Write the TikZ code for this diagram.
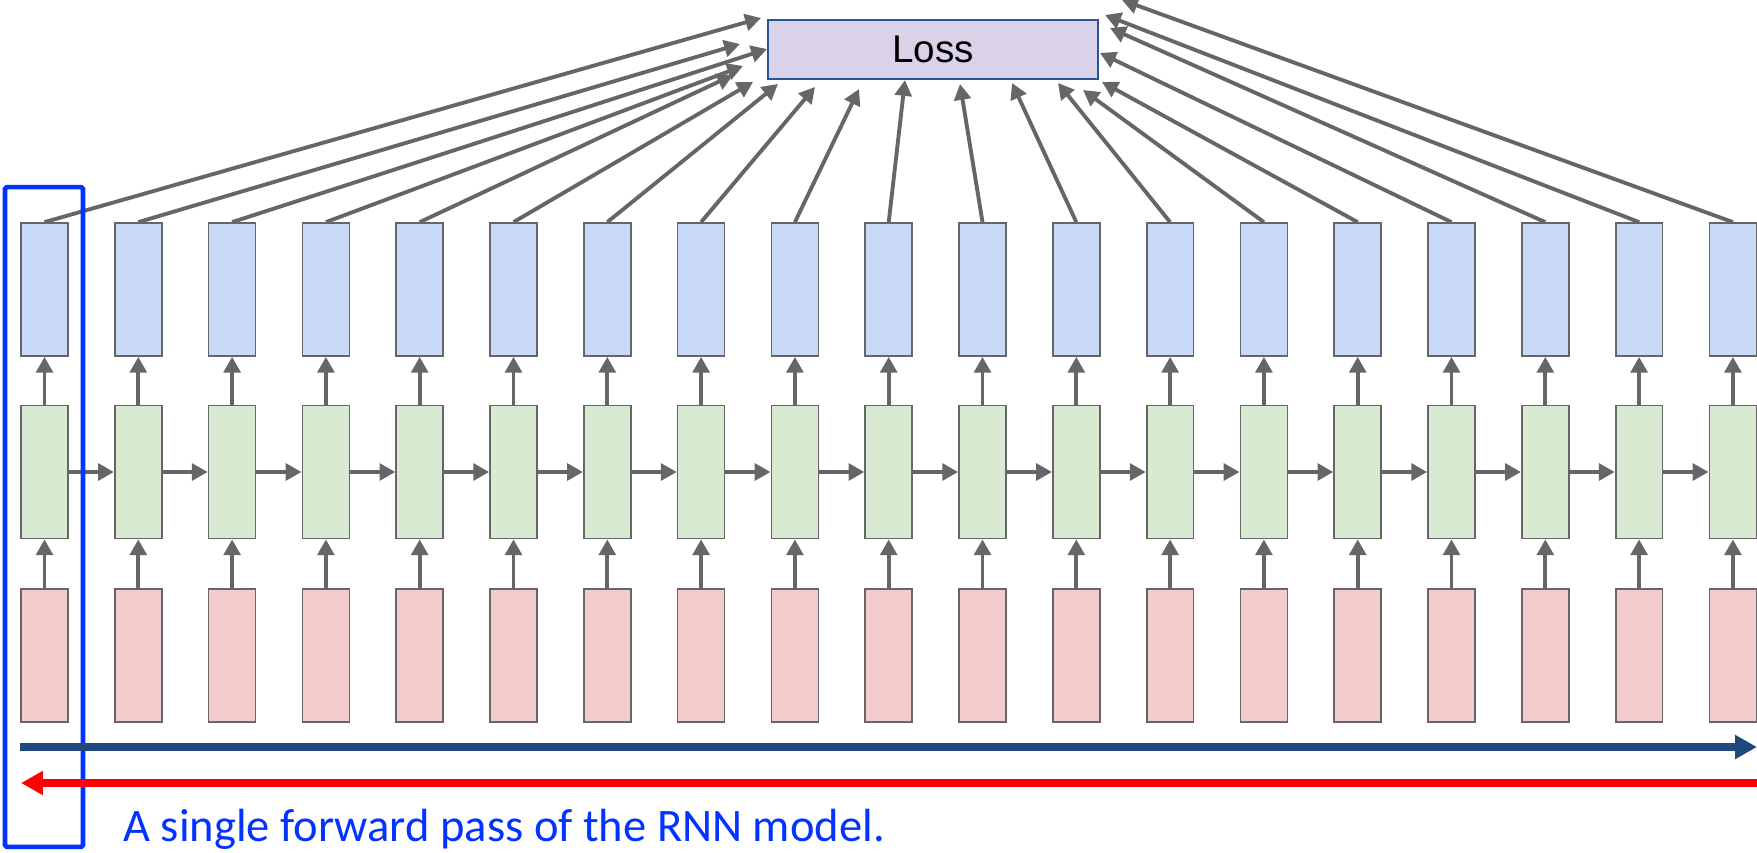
\documentclass[tikz,border=0pt]{standalone}
\usepackage{fontspec}
\setmainfont{Liberation Sans}
\newfontfamily\capfont{Carlito}
\usetikzlibrary{arrows.meta, positioning, calc}
\definecolor{mgray}{HTML}{666666}
\definecolor{mout}{HTML}{C9DAF8}
\definecolor{mhid}{HTML}{D9EAD3}
\definecolor{minp}{HTML}{F4CCCC}
\definecolor{mloss}{HTML}{D9D2E9}
\definecolor{mlossline}{HTML}{2B5597}
\definecolor{mfwd}{HTML}{1F497D}
\definecolor{mbwd}{HTML}{FF0000}
\definecolor{mframe}{HTML}{0433FF}
\tikzset{
  cellbox/.style={draw=mgray, line width=1pt, minimum width=0.94cm,
                  minimum height=2.66cm, inner sep=0pt},
  obox/.style={cellbox, fill=mout},
  hbox/.style={cellbox, fill=mhid},
  ibox/.style={cellbox, fill=minp},
  lossbox/.style={draw=mlossline, line width=0.9pt, fill=mloss, minimum width=6.6cm,
                  minimum height=1.18cm, inner sep=0pt, font=\fontsize{22}{26}\selectfont},
  arr/.style={-{Triangle[length=9pt, width=9.5pt]}, line width=2.2pt, mgray},
  fwdarr/.style={-{Triangle[length=12.5pt, width=13pt]}, line width=4.5pt, mfwd},
  bwdarr/.style={-{Triangle[length=12.5pt, width=13pt]}, line width=4.5pt, mbwd},
  passframe/.style={draw=mframe, line width=2.6pt, rounded corners=1pt,
                    minimum width=1.56cm, minimum height=13.2cm, inner sep=0pt},
}

\begin{document}
\begin{tikzpicture}[x=0.02cm, y=-0.02cm]
  \useasboundingbox (0,0) rectangle (1757,852);

  % unrolled cells: input, hidden, output
  \foreach \i in {1,...,19}{
    \pgfmathsetmacro{\cx}{44.5+(\i-1)*93.8}
    \node[obox] (out\i) at (\cx,289.5) {};
    \node[hbox] (hid\i) at (\cx,472) {};
    \node[ibox] (in\i) at (\cx,655.5) {};
    \draw[arr] (in\i.north) -- (hid\i.south);
    \draw[arr] (hid\i.north) -- (out\i.south);
  }
  \foreach \i [evaluate=\i as \j using int(\i+1)] in {1,...,18}
    \draw[arr] (hid\i.east) -- (hid\j.west);

  \node[lossbox] (loss) at (933,49.5) {Loss};

  % every output feeds the loss
  \foreach \i/\tx/\ty in {1/761/18, 2/740/44, 3/767/49, 4/743/66, 5/733/75,
      6/753/82, 7/778/84, 8/815/87, 9/859/89, 10/905/80, 11/960/84,
      12/1012/83, 13/1058/83, 14/1083/90, 15/1102/82, 16/1100/53,
      17/1110/28, 18/1105/15, 19/1122/0}{
    \coordinate (tip\i) at (\tx,\ty);
    \draw[arr] (out\i.north) -- (tip\i);
  }

  \node[passframe] (frame) at (44,517) {};

  % forward and backward passes
  \coordinate (fwdstart) at (20,747);
  \coordinate (fwdend) at (1757,747);
  \coordinate (bwdstart) at (1765,783);
  \coordinate (bwdend) at (21,783);
  \draw[fwdarr] (fwdstart) -- (fwdend);
  \draw[bwdarr] (bwdstart) -- (bwdend);

  \node[anchor=base west, inner sep=0pt, text=mframe,
        font=\capfont\fontsize{26.5}{30}\selectfont]
    (caption) at (123,841) {A single forward pass of the RNN model.};
\end{tikzpicture}
\end{document}
